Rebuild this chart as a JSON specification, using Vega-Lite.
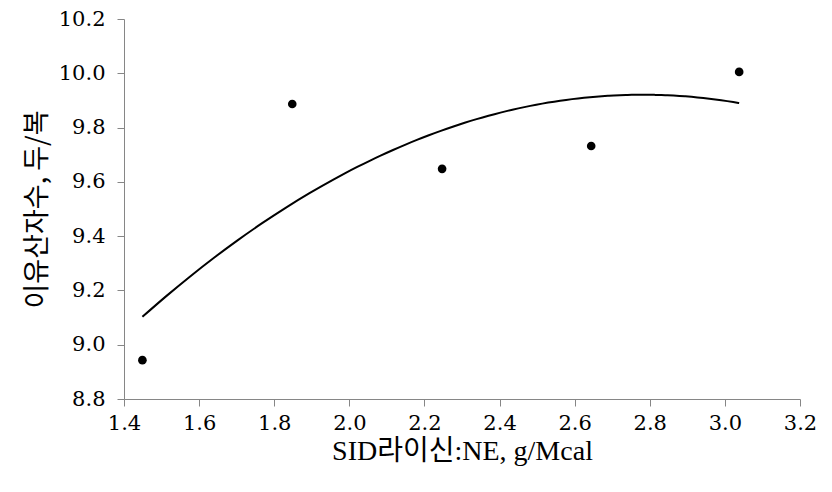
{
  "$schema": "https://vega.github.io/schema/vega-lite/v6.json",
  "width": 676,
  "height": 380,
  "autosize": {"type": "none"},
  "padding": {"left": 124, "top": 19, "right": 32, "bottom": 93},
  "background": "white",
  "config": {
    "view": {"stroke": null},
    "axis": {
      "grid": false,
      "domainColor": "#868686",
      "tickColor": "#868686",
      "tickSize": 7,
      "labelFont": "DejaVu Serif",
      "labelFontSize": 21,
      "labelColor": "#000000",
      "titleColor": "#000000",
      "titleFontWeight": "normal"
    }
  },
  "data": {
    "values": [
      {"x": 1.449, "y": 8.943},
      {"x": 1.848, "y": 9.887},
      {"x": 2.247, "y": 9.648},
      {"x": 2.644, "y": 9.732},
      {"x": 3.038, "y": 10.005}
    ]
  },
  "layer": [
    {
      "transform": [{"regression": "y", "on": "x", "method": "poly", "order": 2}],
      "mark": {"type": "line", "color": "#000000", "strokeWidth": 2, "interpolate": "monotone"},
      "encoding": {
        "x": {"field": "x", "type": "quantitative"},
        "y": {"field": "y", "type": "quantitative"}
      }
    },
    {
      "mark": {"type": "point", "filled": true, "color": "#000000", "size": 75, "opacity": 1},
      "encoding": {
        "x": {
          "field": "x",
          "type": "quantitative",
          "scale": {"domain": [1.4, 3.2], "nice": false, "zero": false},
          "axis": {
            "values": [1.4, 1.6, 1.8, 2.0, 2.2, 2.4, 2.6, 2.8, 3.0, 3.2],
            "format": ".1f",
            "labelPadding": 6,
            "title": "SID라이신:NE, g/Mcal",
            "titleFont": "Liberation Serif, Noto Sans CJK KR",
            "titleFontSize": 28,
            "titlePadding": 4,
            "labelFlush": false
          }
        },
        "y": {
          "field": "y",
          "type": "quantitative",
          "scale": {"domain": [8.8, 10.2], "nice": false, "zero": false},
          "axis": {
            "values": [8.8, 9.0, 9.2, 9.4, 9.6, 9.8, 10.0, 10.2],
            "format": ".1f",
            "labelPadding": 12,
            "title": "이유산자수, 두/복",
            "titleFont": "Noto Sans CJK KR",
            "titleFontSize": 27,
            "titlePadding": 7,
            "labelFlush": false
          }
        }
      }
    }
  ]
}
